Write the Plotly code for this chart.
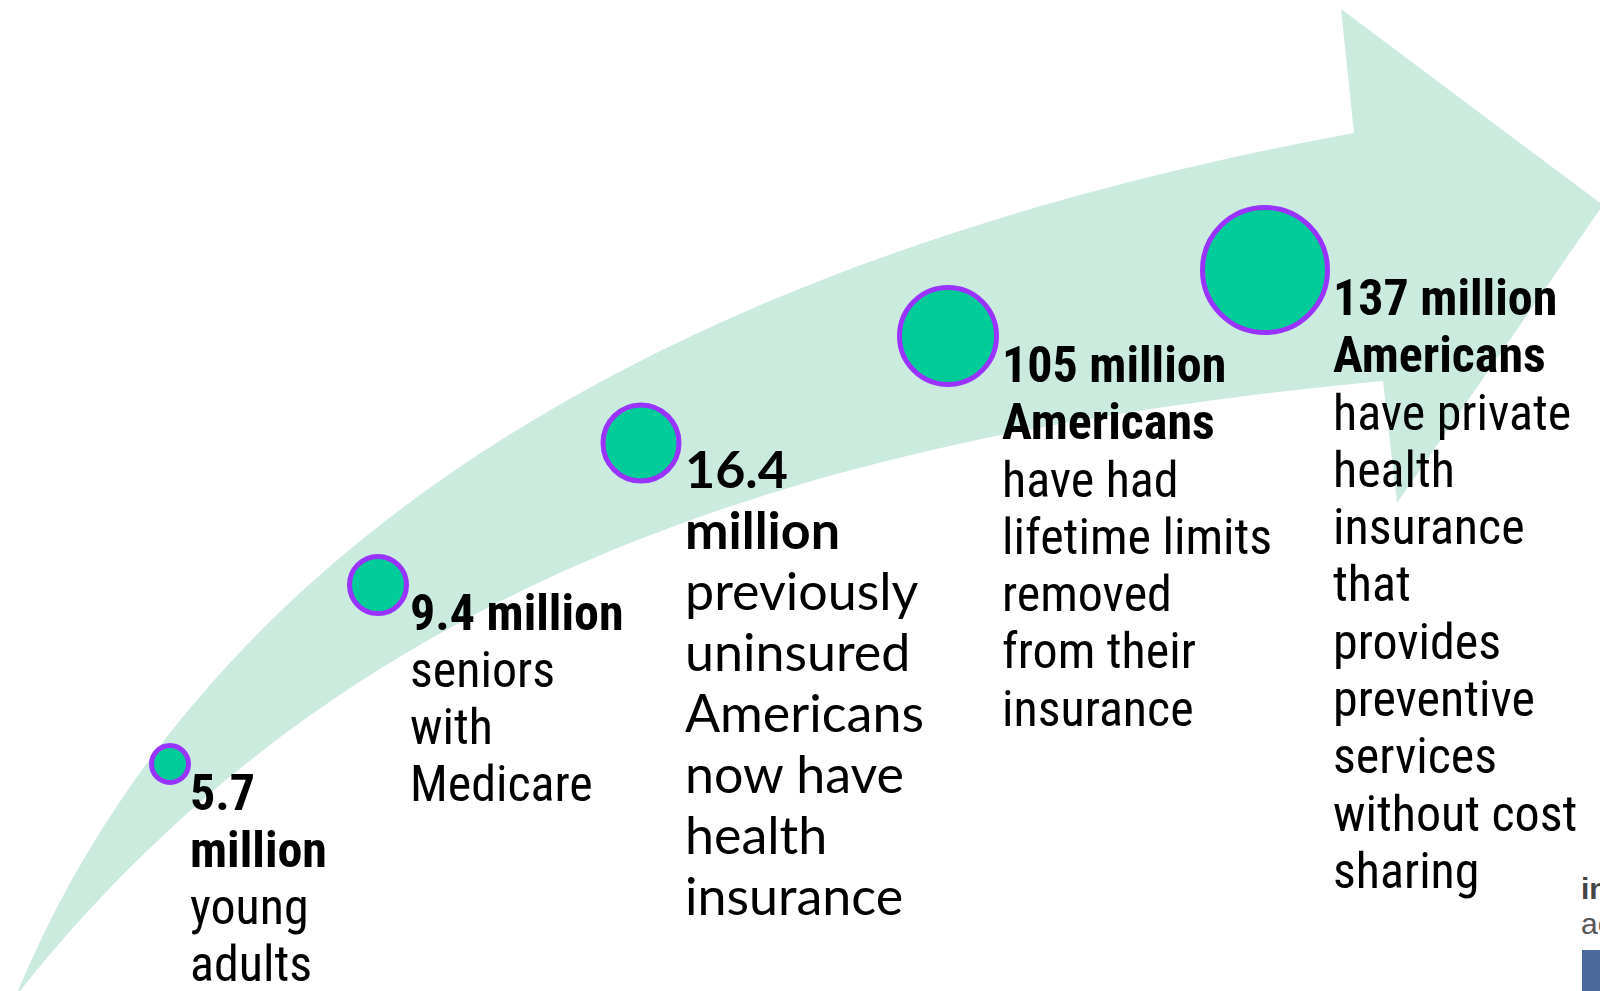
import numpy as np
import plotly.graph_objects as go

# ---------------- data ----------------
values = [5.7, 9.4, 16.4, 105, 137]
bold_lines = [
    ["5.7", "million"],
    ["9.4 million"],
    ["16.4", "million"],
    ["105 million", "Americans"],
    ["137 million", "Americans"],
]
plain_lines = [
    ["young", "adults"],
    ["seniors", "with", "Medicare"],
    ["previously", "uninsured", "Americans", "now have", "health", "insurance"],
    ["have had", "lifetime limits", "removed", "from their", "insurance"],
    ["have private", "health", "insurance", "that", "provides", "preventive",
     "services", "without cost", "sharing"],
]

# ---------------- layout / style (pixel space) ----------------
W, H = 1600, 991
bubble_x = [170, 378, 641, 948, 1265]
bubble_y = [764, 585, 443, 336, 270]
bubble_size = [37, 57, 76, 97, 125]

text_x = [189, 409, 684, 1001, 1332]
text_base = [810, 630, 488, 382, 315]
line_gap = [57, 57, 61, 57.3, 57.3]
NARROW = "Liberation Sans Narrow, Arial Narrow, Roboto Condensed, sans-serif"
CAL = "Lato, Carlito, Calibri, sans-serif"
text_font = [NARROW, NARROW, CAL, NARROW, NARROW]
text_size = [50, 50, 52, 50, 50]
asc_off = {NARROW: 0.342, CAL: 0.387}

BAND = "#CCEBDF"
FILL = "#00CC99"
RING = "#9933FF"

# traced outline of the arrow band (pixel space)
upper_edge = [(18, 991), (90, 850), (197, 700), (330, 565), (607, 378),
              (700, 333), (910, 248), (1121, 183), (1354, 133)]
head = [(1341, 9), (1603, 205), (1397, 503), (1383, 381)]
lower_edge = [(20, 991), (147, 850), (332, 700), (370, 677), (660, 530),
              (730, 507), (940, 446.5), (1150, 412), (1300, 388), (1383, 381)]


def fit_cubic(pts, iters=60):
    """Least-squares cubic Bezier with fixed end points through traced points."""
    P = np.array(pts, float)
    A0, A3 = P[0], P[-1]
    seg = np.hypot(*np.diff(P, axis=0).T)
    t = np.r_[0, np.cumsum(seg)] / seg.sum()
    for _ in range(iters):
        b0 = (1 - t) ** 3
        b1 = 3 * t * (1 - t) ** 2
        b2 = 3 * t ** 2 * (1 - t)
        b3 = t ** 3
        M = np.c_[b1, b2]
        R = P - np.outer(b0, A0) - np.outer(b3, A3)
        sol = np.linalg.lstsq(M, R, rcond=None)[0]
        A1, A2 = sol
        # Newton re-parameterisation
        B = np.outer(b0, A0) + np.outer(b1, A1) + np.outer(b2, A2) + np.outer(b3, A3)
        d1 = (np.outer(3 * (1 - t) ** 2, A1 - A0) + np.outer(6 * (1 - t) * t, A2 - A1)
              + np.outer(3 * t ** 2, A3 - A2))
        d2 = np.outer(6 * (1 - t), A2 - 2 * A1 + A0) + np.outer(6 * t, A3 - 2 * A2 + A1)
        diff = B - P
        num = (diff * d1).sum(1)
        den = (d1 * d1).sum(1) + (diff * d2).sum(1)
        t = np.clip(t - num / np.where(den == 0, 1, den), 0, 1)
        t[0], t[-1] = 0.0, 1.0
    return A0, A1, A2, A3


def curve_str(pts, reverse=False):
    A0, A1, A2, A3 = fit_cubic(pts)
    if reverse:
        A0, A1, A2, A3 = A3, A2, A1, A0
    return A0, f" C {A1[0]:.1f},{A1[1]:.1f} {A2[0]:.1f},{A2[1]:.1f} {A3[0]:.1f},{A3[1]:.1f}"


start, up = curve_str(upper_edge)
_, low = curve_str(lower_edge, reverse=True)
path = f"M {start[0]:.1f},{start[1]:.1f}" + up
for p in head:
    path += f" L {p[0]},{p[1]}"
path += low + " Z"

fig = go.Figure()
fig.add_shape(type="path", path=path, xref="x", yref="y",
              fillcolor=BAND, line=dict(width=0), layer="below")

# bottom-right partial logo
fig.add_shape(type="rect", x0=1582, x1=1640, y0=950, y1=1000, xref="x", yref="y",
              fillcolor="#4B6A9B", line=dict(width=0), layer="above")

fig.add_trace(go.Scatter(
    x=bubble_x, y=bubble_y, mode="markers",
    marker=dict(size=bubble_size, color=FILL, opacity=1,
                line=dict(color=RING, width=5)),
    customdata=values, hovertemplate="%{customdata} million<extra></extra>",
    showlegend=False, cliponaxis=False))

ann = []
for g in range(len(values)):
    lines = [("<b>" + t + "</b>") for t in bold_lines[g]] + plain_lines[g]
    f = text_font[g]
    sz = text_size[g]
    for k, t in enumerate(lines):
        base = text_base[g] + k * line_gap[g]
        ann.append(dict(x=text_x[g], y=base - asc_off[f] * sz, xref="x", yref="y",
                        text=t, showarrow=False, xanchor="left", yanchor="middle",
                        borderpad=0,
                        font=dict(family=f, size=sz, color="#000000")))

ann.append(dict(x=1580, y=899 - 0.3465 * 30, xref="x", yref="y", text="<b>in</b>",
                showarrow=False, xanchor="left", yanchor="middle", borderpad=0,
                font=dict(family="Liberation Sans, Arial, sans-serif", size=30, color="#444444")))
ann.append(dict(x=1580, y=934 - 0.3465 * 30, xref="x", yref="y", text="ac",
                showarrow=False, xanchor="left", yanchor="middle", borderpad=0,
                font=dict(family="Liberation Sans, Arial, sans-serif", size=30, color="#555555")))

fig.update_layout(
    width=W, height=H,
    margin=dict(l=0, r=0, t=0, b=0),
    paper_bgcolor="white", plot_bgcolor="white",
    xaxis=dict(range=[0, W], visible=False, fixedrange=True),
    yaxis=dict(range=[H, 0], visible=False, fixedrange=True),
    annotations=ann,
    showlegend=False,
)

fig.write_html("out.html")
